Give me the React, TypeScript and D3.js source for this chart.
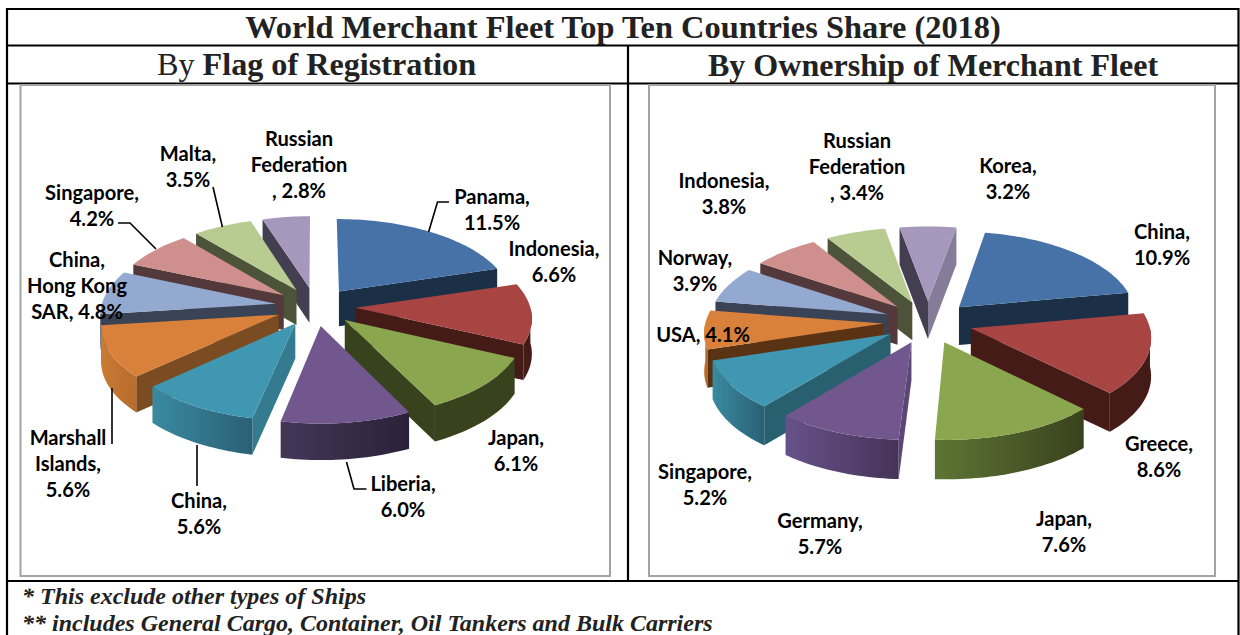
import React from "react";
import * as d3 from "d3";

const flagNames = ["Panama", "Indonesia", "Japan", "Liberia", "China", "Marshall Islands", "China, Hong Kong SAR", "Singapore", "Malta", "Russian Federation"];
const flagValues = [11.5, 6.6, 6.1, 6.0, 5.6, 5.6, 4.8, 4.2, 3.5, 2.8];
const flagLabelLines = ["Panama,|#", "Indonesia,|#", "Japan,|#", "Liberia,|#", "China,|#", "Marshall|Islands,|#", "China,|Hong Kong|SAR, #", "Singapore,|#", "Malta,|#", "Russian|Federation|, #"];
const flagLabelX = [492, 554, 516, 403, 199, 68, 77, 92, 188, 299];
const flagLabelY = [196, 248, 437, 483, 500, 437, 259, 192, 153, 138];

const ownerNames = ["China", "Greece", "Japan", "Germany", "Singapore", "USA", "Norway", "Indonesia", "Russian Federation", "Korea"];
const ownerValues = [10.9, 8.6, 7.6, 5.7, 5.2, 4.1, 3.9, 3.8, 3.4, 3.2];
const ownerLabelLines = ["China,|#", "Greece,|#", "Japan,|#", "Germany,|#", "Singapore,|#", "USA, #", "Norway,|#", "Indonesia,|#", "Russian|Federation|, #", "Korea,|#"];
const ownerLabelX = [1162, 1159, 1064, 820, 705, 703, 695, 724, 857, 1008];
const ownerLabelY = [231, 443, 518, 520, 471, 334, 257, 180, 140, 165];

const topColors = ["#4672a8", "#a84442", "#8aa64e", "#71578d", "#4097b1", "#d9813a", "#93a9cf", "#ce8f8d", "#b8cb91", "#a598bc"];
const flagEdge = ["#1b2f47", "#451b18", "#38421c", "#5c4678", "#357b8f", "#7b4c22", "#3a4356", "#53393b", "#4c5338", "#433e50"];
const ownerEdge = ["#1b2f47", "#451b18", "#38421c", "#5c4678", "#28606f", "#5a3314", "#3a4356", "#53393b", "#4c5338", "#433e50"];
const ownerEndEdge = ["#1b2f47", "#451b18", "#38421c", "#5c4678", "#28606f", "#5a3314", "#3a4356", "#53393b", "#4c5338", "#857c99"];
const flagArcLeft = ["#1b2f47", "#451b18", "#38421c", "#453658", "#3a8aa0", "#c97a33", "#3a4356", "#53393b", "#4c5338", "#433e50"];
const flagArcRight = ["#1b2f47", "#451b18", "#38421c", "#2b2239", "#2a6075", "#b86d2e", "#3a4356", "#53393b", "#4c5338", "#433e50"];
const ownerArcLeft = ["#1b2f47", "#451b18", "#5e7535", "#66528a", "#3a8aa0", "#c97a33", "#3a4356", "#53393b", "#4c5338", "#433e50"];
const ownerArcRight = ["#1b2f47", "#451b18", "#38421c", "#463357", "#2a6075", "#a9642a", "#3a4356", "#53393b", "#4c5338", "#433e50"];

const flagLeaders: [number, number][][] = [
  [[449, 202], [437.5, 202], [428.6, 232]],
  [[213, 187], [222.4, 227]],
  [[118, 223], [130, 223], [156, 249]],
  [[112, 388], [112, 444]],
  [[197, 445], [197, 486]],
  [[346.5, 462], [354, 489], [366.5, 489]],
];

const RAD = Math.PI / 180;

type PieCfg = {
  id: string; names: string[]; values: number[]; rot: number; cx: number; cy: number; A: number; B: number;
  k: number; e: number; d: number; edge: string[]; endEdge: string[]; arcL: string[]; arcR: string[];
};

const flagCfg: PieCfg = { id: "f", names: flagNames, values: flagValues, rot: 0, cx: 315.5, cy: 306.5, A: 174.5, B: 83, k: 0.105, e: 0.23, d: 35, edge: flagEdge, endEdge: flagEdge, arcL: flagArcLeft, arcR: flagArcRight };
const ownerCfg: PieCfg = { id: "o", names: ownerNames, values: ownerValues, rot: 10.2, cx: 928, cy: 322, A: 178, B: 85, k: 0.09, e: 0.25, d: 38, edge: ownerEdge, endEdge: ownerEndEdge, arcL: ownerArcLeft, arcR: ownerArcRight };

const line = d3.line<[number, number]>().x((p) => p[0]).y((p) => p[1]);

function Pie({ cfg }: { cfg: PieCfg }) {
  const { id, values, rot, cx, cy, A, B, k, e, d } = cfg;
  const arcs = d3.pie<number>().sort(null).startAngle(rot * RAD).endAngle(rot * RAD + 2 * Math.PI)(values);
  const items = arcs.map((a, i) => {
    const mid = (a.startAngle + a.endAngle) / 2;
    const ou = e * Math.sin(mid);
    const ov = -e * Math.cos(mid);
    const proj = (th: number, r: number, drop = 0): [number, number] => {
      const u = r * Math.sin(th) + ou;
      const v = -r * Math.cos(th) + ov;
      const s = 1 / (1 - k * v);
      return [cx + A * u * s, cy + B * v * s + drop * (1 + (s - 1) * 0.3)];
    };
    const rim = (from: number, to: number, drop = 0): [number, number][] => {
      const n = Math.max(2, Math.ceil(Math.abs(to - from) / (1.5 * RAD)));
      return d3.range(n + 1).map((j) => proj(from + ((to - from) * j) / n, 1, drop));
    };
    const shapes: React.ReactNode[] = [];
    const wall = (th: number, key: string, fill: string) => {
      const pts: [number, number][] = [proj(th, 0), proj(th, 1), proj(th, 1, d), proj(th, 0, d)];
      shapes.push(<path key={key} d={line(pts) + "Z"} fill={fill} />);
    };
    if (Math.sin(a.startAngle) < 0) wall(a.startAngle, "s", cfg.edge[i]);
    if (Math.sin(a.endAngle) > 0) wall(a.endAngle, "e", cfg.endEdge[i]);
    const lo = Math.max(a.startAngle, 90 * RAD);
    const hi = Math.min(a.endAngle, 270 * RAD);
    if (hi > lo) {
      shapes.push(<path key="a" d={line(rim(lo, hi).concat(rim(hi, lo, d))) + "Z"} fill={`url(#${id}g${i})`} />);
    }
    const topPts: [number, number][] = [proj(a.startAngle, 0), ...rim(a.startAngle, a.endAngle)];
    shapes.push(<path key="t" d={line(topPts) + "Z"} fill={topColors[i]} />);
    return { i, v: ov, shapes };
  });
  const order = d3.range(items.length).sort((p, q) => d3.ascending(items[p].v, items[q].v));
  return (
    <g>
      <defs>
        {values.map((_, i) => (
          <linearGradient key={i} id={`${id}g${i}`} x1="0" x2="1" y1="0" y2="0">
            <stop offset="0" stopColor={cfg.arcL[i]} />
            <stop offset="1" stopColor={cfg.arcR[i]} />
          </linearGradient>
        ))}
      </defs>
      {order.map((idx) => (
        <g key={idx} aria-label={cfg.names[idx]}>{items[idx].shapes}</g>
      ))}
    </g>
  );
}

function Labels({ lines, values, xs, ys }: { lines: string[]; values: number[]; xs: number[]; ys: number[] }) {
  return (
    <g fontFamily="Lato, 'Noto Sans', sans-serif" fontWeight="700" fontSize="20.1" fill="#000" textAnchor="middle">
      {lines.map((l, i) =>
        l.split("|").map((t, j) => (
          <text key={`${i}-${j}`} x={xs[i]} y={ys[i] + j * 25.9} dominantBaseline="central">
            {t.replace("#", values[i].toFixed(1) + "%")}
          </text>
        ))
      )}
    </g>
  );
}

export default function App() {
  const rule = { stroke: "#000", strokeWidth: 2.2 };
  const frame = { fill: "#fff", stroke: "#a3a3a3", strokeWidth: 2 };
  const serif = "'Liberation Serif', 'Times New Roman', serif";
  return (
    <svg width={1240} height={635} style={{ position: "fixed", left: 0, top: 0, display: "block", background: "#fff" }}>
      <line x1={7} x2={1239} y1={9} y2={9} {...rule} />
      <line x1={7} x2={1239} y1={45.5} y2={45.5} {...rule} />
      <line x1={7} x2={1239} y1={83.5} y2={83.5} {...rule} />
      <line x1={7} x2={1239} y1={581} y2={581} {...rule} />
      <line x1={7} x2={7} y1={8} y2={635} {...rule} />
      <line x1={1238.5} x2={1238.5} y1={8} y2={635} {...rule} />
      <line x1={628} x2={628} y1={45} y2={581} {...rule} />
      <rect x={20.5} y={85} width={589.5} height={491} {...frame} />
      <rect x={649} y={85} width={566} height={491} {...frame} />

      <g fontFamily={serif} fill="#222" fontWeight="700">
        <text x={623} y={38} textAnchor="middle" fontSize="32.4">World Merchant Fleet Top Ten Countries Share (2018)</text>
        <text x={316.5} y={75} textAnchor="middle" fontSize="32.2">
          <tspan fontWeight="400">By </tspan>Flag of Registration
        </text>
        <text x={933} y={76} textAnchor="middle" fontSize="32.1">By Ownership of Merchant Fleet</text>
        <g fontStyle="italic" fontSize="24">
          <text x={22} y={604}>* This exclude other types of Ships</text>
          <text x={22} y={631}>** includes General Cargo, Container, Oil Tankers and Bulk Carriers</text>
        </g>
      </g>

      <Pie cfg={flagCfg} />
      <Pie cfg={ownerCfg} />

      {flagLeaders.map((pts, i) => (
        <path key={i} d={line(pts) ?? ""} fill="none" stroke="#000" strokeWidth={1.6} />
      ))}

      <Labels lines={flagLabelLines} values={flagValues} xs={flagLabelX} ys={flagLabelY} />
      <Labels lines={ownerLabelLines} values={ownerValues} xs={ownerLabelX} ys={ownerLabelY} />
    </svg>
  );
}
